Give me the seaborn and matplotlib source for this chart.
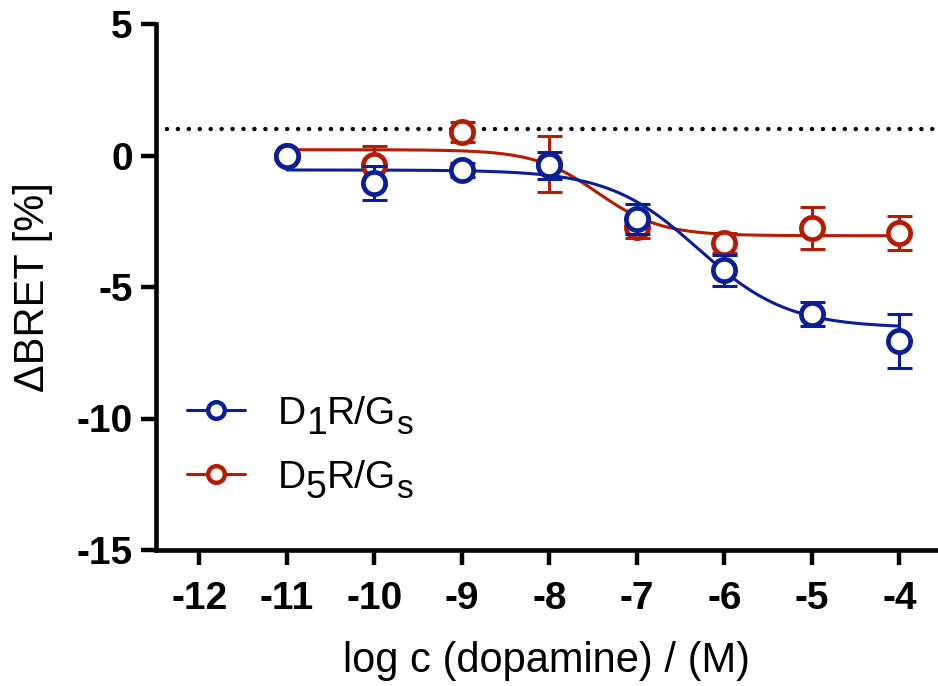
import numpy as np
import pandas as pd
import matplotlib
matplotlib.use("Agg")
import matplotlib.pyplot as plt
from matplotlib.lines import Line2D
import seaborn as sns

# ---- data ----
log_conc = [-11, -10, -9, -8, -7, -6, -5, -4]

d1_mean = [0.0, -1.05, -0.55, -0.38, -2.42, -4.37, -6.03, -7.05]
d1_err = [0.0, 0.65, 0.25, 0.5, 0.58, 0.6, 0.47, 1.04]

d5_mean = [0.0, -0.38, 0.88, -0.32, -2.72, -3.32, -2.75, -2.95]
d5_err = [0.0, 0.75, 0.38, 1.06, 0.4, 0.39, 0.8, 0.65]

# four-parameter logistic fit parameters (top, bottom, logEC50, hill)
d1_fit = [-0.55, -6.55, -6.3, 0.85]
d5_fit = [0.22, -3.05, -7.45, 1.2]

baseline = 1.0
x_ticks = [-12, -11, -10, -9, -8, -7, -6, -5, -4]
y_ticks = [-15, -10, -5, 0, 5]

# legend labels: (text, is_subscript) pieces
label_parts = [
    [("D", False), ("1", True), ("R/G", False), ("s", True)],
    [("D", False), ("5", True), ("R/G", False), ("s", True)],
]
blue = "#0a1f97"
red = "#b41c04"

sns.set_theme(style="white")
plt.rcParams["font.family"] = ["Liberation Sans", "DejaVu Sans"]
plt.rcParams["text.color"] = "black"
plt.rcParams["axes.labelcolor"] = "black"
plt.rcParams["xtick.color"] = "black"
plt.rcParams["ytick.color"] = "black"

W, H = 938, 686
fig = plt.figure(figsize=(W / 100, H / 100), dpi=100)
ax = fig.add_axes([155.7 / W, (H - 550) / H, (W - 155.7) / W, (550 - 24) / H])

def four_pl(x, p):
    top, bottom, ec, hill = p
    return bottom + (top - bottom) / (1 + 10 ** (hill * (x - ec)))

xs = np.linspace(-11, -4, 300)
curves = pd.concat([
    pd.DataFrame({"x": xs, "y": four_pl(xs, d5_fit), "s": "D5"}),
    pd.DataFrame({"x": xs, "y": four_pl(xs, d1_fit), "s": "D1"}),
])

ax.axhline(baseline, color="black", lw=3.2, ls=(0, (0.01, 2.45)), dash_capstyle="round", zorder=1)

sns.lineplot(data=curves, x="x", y="y", hue="s", palette={"D5": red, "D1": blue},
             lw=2.2, legend=False, ax=ax, zorder=2, estimator=None)

ms = 16
for mean, err, col, z in [(d5_mean, d5_err, red, 3), (d1_mean, d1_err, blue, 5)]:
    ax.errorbar(log_conc, mean, yerr=err, fmt="none", ecolor=col, elinewidth=2.2,
                capsize=9, capthick=2.2, zorder=z)
    ax.plot(log_conc, mean, ls="none", marker="o", ms=ms, mfc="white", mec=col,
            mew=3.4, zorder=z + 0.5)

ax.set_xlim(-12.5, -3.56)
ax.set_ylim(-15, 5)
ax.set_xticks(x_ticks)
ax.set_yticks(y_ticks)
ax.set_xticklabels([str(t) for t in x_ticks], fontsize=28, fontweight="bold")
ax.set_yticklabels([str(t) for t in y_ticks], fontsize=28, fontweight="bold")
ax.tick_params(axis="both", length=10.5, width=3.2, color="black", direction="out",
               bottom=True, left=True)
ax.tick_params(axis="x", pad=12)
ax.tick_params(axis="y", pad=6)

for side in ["top", "right"]:
    ax.spines[side].set_visible(False)
for side in ["left", "bottom"]:
    ax.spines[side].set_linewidth(3.3)
    ax.spines[side].set_color("black")

ax.set_xlabel("log c (dopamine) / (M)", fontsize=30, labelpad=17)
ax.set_ylabel("ΔBRET [%]", fontsize=30, labelpad=17)

# legend: handles from ax.legend, label text composed with real subscripts
leg_fs = 28
handles = [
    Line2D([], [], color=blue, lw=2.2, marker="o", ms=12, mfc="white", mec=blue, mew=3.2),
    Line2D([], [], color=red, lw=2.2, marker="o", ms=12, mfc="white", mec=red, mew=3.2),
]
plain = ["".join(p for p, _ in parts) for parts in label_parts]
leg = ax.legend(handles, plain, loc="center left", bbox_to_anchor=(187 / W, (H - 446) / H),
                bbox_transform=fig.transFigure, frameon=False, fontsize=leg_fs,
                handlelength=1.5, handletextpad=0.83, labelspacing=0.72,
                borderpad=0, borderaxespad=0)
for t in leg.get_texts():
    t.set_alpha(0)

fig.canvas.draw()
renderer = fig.canvas.get_renderer()
for t, parts in zip(leg.get_texts(), label_parts):
    bb = t.get_window_extent(renderer)
    x = bb.x0
    base = bb.y0 + 0.21 * leg_fs * 100 / 72
    for s, sub in parts:
        size = (24 if s.isalpha() else 27) if sub else leg_fs
        dy = -10 if sub else 0
        tt = fig.text(x / W, (base + dy) / H, s, fontsize=size, va="baseline", ha="left")
        x += tt.get_window_extent(renderer).width

fig.savefig("out.png", dpi=100)
